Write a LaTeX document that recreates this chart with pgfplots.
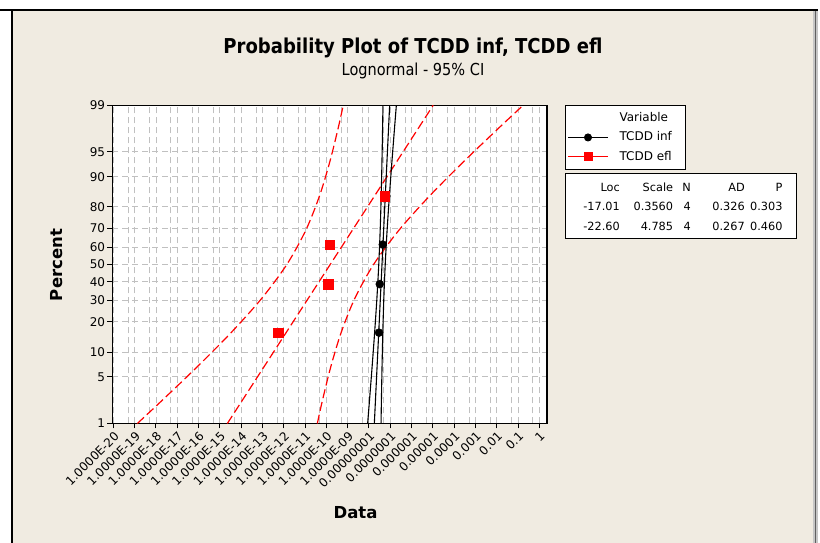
\documentclass[border=0pt]{standalone}
\usepackage{fontspec}
\setmainfont{DejaVu Sans}
\newfontfamily\titlefont[FakeStretch=0.88]{DejaVu Sans}
\usepackage{pgfplots}
\usepackage{pgfplotstable}
\pgfplotsset{compat=1.18}

\definecolor{panel}{RGB}{240,235,225}
\definecolor{gridgray}{RGB}{192,192,192}

% x = log10(Data), y = normal score of the plotting position
\pgfplotstableread{
x z
-7.525 -0.998
-7.492 -0.2892
-7.351 0.2892
-7.180 0.998
}\infpts
\pgfplotstableread{
x z
-12.267 -0.998
-9.919 -0.2892
-9.839 0.2892
-7.257 0.998
}\eflpts

% fitted percentile line and 95% confidence bounds (log10 scale)
\pgfplotstableread{
z lo fit hi
-2.3263 -8.0610 -7.7466 -7.4322
-2 -7.9774 -7.6962 -7.4150
-1.5 -7.8524 -7.6189 -7.3854
-1 -7.7339 -7.5416 -7.3493
-0.5 -7.6270 -7.4643 -7.3016
0 -7.5385 -7.3870 -7.2355
0.5 -7.4724 -7.3097 -7.1470
1 -7.4247 -7.2324 -7.0401
1.5 -7.3886 -7.1551 -6.9216
2 -7.3590 -7.0778 -6.7966
2.3263 -7.3418 -7.0274 -6.7130
}\inffit
\pgfplotstableread{
z lo fit hi
-2.3263 -18.8745 -14.6487 -10.4229
-2 -17.7506 -13.9712 -10.1918
-1.5 -16.0706 -12.9322 -9.7938
-1 -14.4780 -11.8931 -9.3082
-0.5 -13.0407 -10.8541 -8.6675
0 -11.8516 -9.8150 -7.7784
0.5 -10.9626 -8.7760 -6.5894
1 -10.3218 -7.7369 -5.1520
1.5 -9.8363 -6.6979 -3.5595
2 -9.4382 -5.6588 -1.8794
2.3263 -9.2071 -4.9813 -0.7555
}\eflfit

\newcommand\legtext[1]{\hspace*{5pt}\makebox[58pt][l]{#1}}

\begin{document}
\begin{tikzpicture}[x=1pt,y=1pt]
\useasboundingbox (0,0) rectangle (820,543);
\fill[white] (0,0) rectangle (820,543);
\fill[panel] (12,0) rectangle (814,532.5);
\fill[gray!45] (812.5,0) rectangle (818,532.5);
\draw[gray!75!black, line width=1pt] (815.5,0) -- (815.5,532.5);
\draw[line width=2pt] (0,533) -- (818,533);
\draw[line width=2pt] (11.5,0) -- (11.5,534);

\begin{axis}[
  at={(112.3pt,119.5pt)}, anchor=south west, scale only axis,
  width=434.7pt, height=318.3pt,
  axis background/.style={fill=white},
  axis line style={line width=1.3pt},
  xmin=-20.05, xmax=0.36, ymin=-2.3263, ymax=2.3263,
  xtick={-20,-19,-18,-17,-16,-15,-14,-13,-12,-11,-10,-9,-8,-7,-6,-5,-4,-3,-2,-1,0},
  xticklabels={1.0000E-20,1.0000E-19,1.0000E-18,1.0000E-17,1.0000E-16,1.0000E-15,1.0000E-14,1.0000E-13,1.0000E-12,1.0000E-11,1.0000E-10,1.0000E-09,0.00000001,0.0000001,0.000001,0.00001,0.0001,0.001,0.01,0.1,1},
  minor xtick={-19.301,-18.301,-17.301,-16.301,-15.301,-14.301,-13.301,-12.301,-11.301,-10.301,-9.301,-8.301,-7.301,-6.301,-5.301,-4.301,-3.301,-2.301,-1.301,-0.301},
  ytick={-2.3263,-1.6449,-1.2816,-0.8416,-0.5244,-0.2533,0,0.2533,0.5244,0.8416,1.2816,1.6449,2.3263},
  yticklabels={1,5,10,20,30,40,50,60,70,80,90,95,99},
  tick align=outside, xtick pos=bottom, ytick pos=left,
  major tick length=5pt, minor tick length=0pt,
  tick style={black, line width=1pt},
  grid=both,
  major grid style={gridgray, dash pattern=on 6pt off 4pt, line width=0.9pt},
  minor grid style={gridgray, dash pattern=on 6pt off 4pt, line width=0.9pt},
  ticklabel style={font=\fontsize{12}{14}\selectfont},
  xticklabel style={rotate=45, anchor=north east, inner sep=1.5pt},
  yticklabel style={inner sep=2pt},
  legend style={at={(1,1)}, anchor=north west, xshift=18pt, yshift=0.5pt,
    draw=black, line width=1pt, fill=white,
    font=\fontsize{12}{14}\selectfont, cells={anchor=west},
    nodes={inner xsep=6pt, inner ysep=3pt, text height=10pt, text depth=3.5pt},
    inner xsep=2pt, inner ysep=3pt, row sep=0pt},
  legend image code/.code={\draw[#1, mark repeat=2, mark phase=2] plot coordinates {(0pt,0pt) (20pt,0pt) (40pt,0pt)};},
]
\addlegendimage{empty legend}
\addlegendentry{\legtext{Variable}}
\addlegendimage{black, line width=1pt, mark=*, mark size=3.5pt}
\addlegendentry{\legtext{TCDD inf}}
\addlegendimage{red, line width=1pt, mark=square*, mark size=4pt}
\addlegendentry{\legtext{TCDD efl}}

% TCDD efl: fit and bounds
\addplot[red, line width=1.2pt, dash pattern=on 9pt off 4pt, smooth, forget plot] table[x=lo, y=z] {\eflfit};
\addplot[red, line width=1.2pt, dash pattern=on 9pt off 4pt, forget plot] table[x=fit, y=z] {\eflfit};
\addplot[red, line width=1.2pt, dash pattern=on 9pt off 4pt, smooth, forget plot] table[x=hi, y=z] {\eflfit};
% TCDD inf: fit and bounds
\addplot[black, line width=1.1pt, smooth, forget plot] table[x=lo, y=z] {\inffit};
\addplot[black, line width=1.1pt, forget plot] table[x=fit, y=z] {\inffit};
\addplot[black, line width=1.1pt, smooth, forget plot] table[x=hi, y=z] {\inffit};
% observations
\addplot[only marks, mark=*, mark size=4pt, black, forget plot] table[x=x, y=z] {\infpts};
\addplot[only marks, mark=square*, mark size=4.7pt, red, forget plot] table[x=x, y=z] {\eflpts};
\end{axis}

% titles and axis names
\node[font=\titlefont\bfseries\fontsize{20.5}{24}\selectfont] at (413,495) {Probability Plot of TCDD inf, TCDD efl};
\node[font=\titlefont\fontsize{16.5}{19}\selectfont] at (413,472) {Lognormal - 95\% CI};
\node[rotate=90, font=\bfseries\fontsize{16.5}{19}\selectfont] at (57,278) {Percent};
\node[font=\bfseries\fontsize{16.5}{19}\selectfont] at (355.5,30) {Data};

% distribution parameters table
\draw[line width=1pt, fill=white] (565,304.7) rectangle (796.7,369.7);
\begin{scope}[every node/.style={anchor=east, inner sep=0pt, font=\fontsize{11.3}{13}\selectfont}]
\node at (620,355.7) {Loc};
\node at (673.3,355.7) {Scale};
\node at (691,355.7) {N};
\node at (745,355.7) {AD};
\node at (782.7,355.7) {P};
\node at (620,336.3) {-17.01};
\node at (673.3,336.3) {0.3560};
\node at (691,336.3) {4};
\node at (745,336.3) {0.326};
\node at (782.7,336.3) {0.303};
\node at (620,317) {-22.60};
\node at (673.3,317) {4.785};
\node at (691,317) {4};
\node at (745,317) {0.267};
\node at (782.7,317) {0.460};
\end{scope}
\end{tikzpicture}
\end{document}
